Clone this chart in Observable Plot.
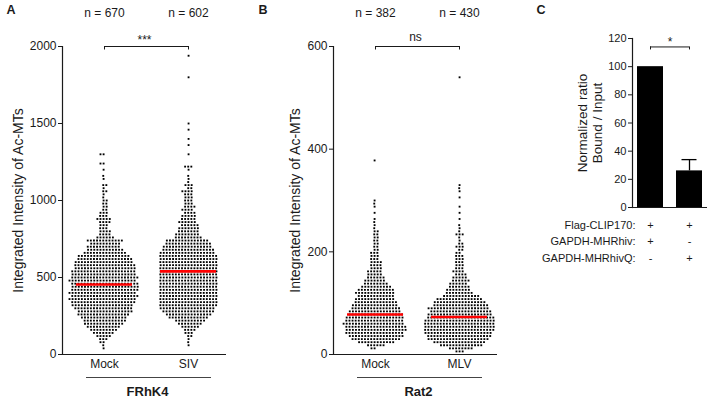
<!DOCTYPE html>
<html><head><meta charset="utf-8">
<script src="https://cdn.jsdelivr.net/npm/d3@7"></script>
<script src="https://cdn.jsdelivr.net/npm/@observablehq/plot@0.6"></script>
<style>
body{margin:0;background:#fff;}
#wrap{position:relative;width:709px;height:400px;overflow:hidden;background:#fff;}
#wrap svg{position:absolute;top:0;}
</style></head><body><div id="wrap"></div>
<script>
// ---------- Panel A data (FRhK4) : [row value, number of dots in row] ----------
const groupsA = ["Mock", "SIV"];
const nA = [670, 602];
const meanA = [455, 540];
const mockA = [[40,1],[60,1],[80,2],[100,3],[120,5],[140,7],[160,9],[180,11],[200,13],[220,14],[240,15],[260,17],[280,18],[300,19],[320,20],[340,21],[360,22],[380,22],[400,22],[420,22],[440,22],[460,22],[480,22],[500,22],[520,21],[540,21],[560,20],[580,20],[600,19],[620,18],[640,17],[660,14],[680,12],[700,11],[720,10],[740,12],[760,6],[780,4],[800,4],[820,3],[840,3],[860,4],[880,5],[900,3],[920,3],[940,2],[960,2],[980,2],[1000,2],[1020,1],[1040,1],[1060,2],[1080,1],[1100,2],[1140,1],[1160,1],[1200,1],[1240,2],[1300,2]];
const sivA = [[60,1],[80,1],[100,1],[120,2],[140,3],[160,4],[180,6],[200,8],[220,10],[240,13],[260,15],[280,17],[300,18],[320,19],[340,19],[360,19],[380,19],[400,19],[420,19],[440,19],[460,19],[480,19],[500,19],[520,19],[540,19],[560,19],[580,19],[600,19],[620,19],[640,19],[660,18],[680,17],[700,16],[720,15],[740,14],[760,9],[780,8],[800,7],[820,7],[840,6],[860,6],[880,5],[900,5],[920,4],[940,4],[960,4],[980,3],[1000,3],[1020,3],[1040,3],[1060,4],[1080,2],[1100,3],[1120,1],[1140,1],[1160,1],[1200,1],[1220,3],[1300,1],[1360,1],[1400,1],[1460,1],[1500,1],[1800,1],[1940,1]];
const ticksA = [0, 500, 1000, 1500, 2000];

// ---------- Panel B data (Rat2) ----------
const groupsB = ["Mock", "MLV"];
const nB = [382, 430];
const meanB = [78, 73];
const mockB = [[12,2],[18,6],[24,12],[30,16],[36,18],[42,19],[48,20],[54,20],[60,20],[66,19],[72,19],[78,18],[84,17],[90,16],[96,15],[102,14],[108,13],[114,12],[120,13],[126,12],[132,10],[138,8],[144,7],[150,6],[156,5],[162,5],[168,4],[174,4],[180,4],[186,3],[192,3],[198,3],[204,2],[210,2],[216,2],[222,2],[228,2],[234,2],[240,2],[246,1],[252,1],[258,1],[264,1],[276,1],[288,1],[294,1],[300,1],[378,1]];
const mlvB = [[6,3],[12,8],[18,14],[24,17],[30,20],[36,21],[42,22],[48,23],[54,23],[60,23],[66,23],[72,22],[78,21],[84,20],[90,20],[96,18],[102,17],[108,15],[114,12],[120,9],[126,8],[132,7],[138,6],[144,6],[150,5],[156,4],[162,4],[168,3],[174,3],[180,3],[186,3],[192,3],[198,2],[204,2],[210,3],[216,2],[222,1],[228,1],[234,3],[240,1],[246,1],[252,1],[264,1],[276,1],[288,1],[306,1],[318,1],[324,1],[330,1],[540,1]];
const ticksB = [0, 200, 400, 600];

// ---------- Panel C data ----------
const barsC = ["lane1", "lane2"];
const valuesC = [100, 26];
const errC = [0, 8];
const ticksC = [0, 20, 40, 60, 80, 100, 120];
const condLabels = ["Flag-CLIP170:", "GAPDH-MHRhiv:", "GAPDH-MHRhivQ:"];
const condSigns = [["+", "+"], ["+", "-"], ["-", "+"]];

const FONT = "'Liberation Sans', Arial, Helvetica, sans-serif";
const AX = "#1a1a1a";

function swarmPanel({left, groups, rows, means, ns, yDomain, yTicks, sig, sigDy, cell, letter, letterDx, ylabelDx}) {
  const W = 240, H = 400, mL = 62, mR = 14, mT = 46, mB = 46;
  const pad = 0.465, align = 0.52;
  const xs = d3.scalePoint().domain(groups).range([mL, W - mR]).padding(pad).align(align);
  const mid = (mL + W - mR) / 2;
  const pts = rows.map((r, i) => r.flatMap(([v, c]) => d3.range(c).map(() => ({g: groups[i], v}))));
  const meanData = groups.map((g, i) => ({g, m: means[i]}));
  const nData = groups.map((g, i) => ({g, n: "n = " + ns[i]}));
  const tick = (yDomain[1] - yDomain[0]) * 3.5 / (H - mT - mB);
  const svg = Plot.plot({
    width: W, height: H, marginLeft: mL, marginRight: mR, marginTop: mT, marginBottom: mB,
    style: {fontFamily: FONT, fontSize: "12px", color: AX, background: "transparent", overflow: "visible"},
    x: {type: "point", domain: groups, padding: pad, align},
    y: {domain: yDomain},
    marks: [
      Plot.axisY({ticks: yTicks, tickSize: 4, tickPadding: 2, label: null, fontSize: 12, tickFormat: d => String(d)}),
      Plot.axisX({tickSize: 0, tickPadding: 5, label: null, fontSize: 12}),
      Plot.frame({anchor: "left", stroke: AX, strokeWidth: 1.2}),
      Plot.ruleY([yDomain[0]], {stroke: AX, strokeWidth: 1.2}),
      ...groups.map((g, i) => Plot.dot(pts[i], Plot.dodgeX("middle", {y: "v", r: 1.05, padding: 0.55, symbol: "square", fill: "#000", stroke: null, dx: xs(g) - mid}))),
      Plot.ruleY(meanData, {x1: "g", x2: "g", y: "m", stroke: "#ff0000", strokeWidth: 2.6, insetLeft: -28, insetRight: -28}),
      Plot.text(nData, {x: "g", text: "n", frameAnchor: "top", lineAnchor: "middle", dy: -33, fontSize: 12, fill: AX}),
      Plot.ruleY([yDomain[1]], {x1: () => groups[0], x2: () => groups[1], stroke: AX}),
      Plot.ruleX(groups, {x: d => d, y1: yDomain[1], y2: yDomain[1] - tick, stroke: AX}),
      Plot.text([sig], {frameAnchor: "top", lineAnchor: "middle", dy: sigDy, fontSize: 12, fill: AX}),
      Plot.ruleY([yDomain[0]], {x1: () => groups[0], x2: () => groups[1], dy: 23, insetLeft: -18, insetRight: -23, stroke: "#444"}),
      Plot.text([cell], {frameAnchor: "bottom", lineAnchor: "middle", dy: 37, dx: 3, fontWeight: "bold", fontSize: 13, fill: AX}),
      Plot.text([letter], {frameAnchor: "top-left", textAnchor: "start", lineAnchor: "middle", dx: letterDx, dy: -37, fontWeight: "bold", fontSize: 12.5, fill: AX}),
      Plot.text(["Integrated Intensity of Ac-MTs"], {frameAnchor: "left", textAnchor: "middle", lineAnchor: "middle", rotate: -90, dx: ylabelDx, fontSize: 14, fill: AX})
    ]
  });
  svg.style.left = left + "px";
  return svg;
}

function barPanel() {
  const W = 179, H = 400, mL = 102, mR = 2, mT = 38, mB = 193;
  const bars = barsC.map((k, i) => ({k, v: valuesC[i], e: errC[i]}));
  const errs = bars.filter(d => d.e > 0);
  const signs = condSigns.flatMap((row, r) => row.map((s, i) => ({k: barsC[i], s, r})));
  const top = 114;
  const tick = 120 * 3 / (H - mT - mB);
  const svg = Plot.plot({
    width: W, height: H, marginLeft: mL, marginRight: mR, marginTop: mT, marginBottom: mB,
    style: {fontFamily: FONT, fontSize: "11px", color: AX, background: "transparent", overflow: "visible"},
    x: {type: "band", domain: barsC, paddingInner: 0.333, paddingOuter: 0.128},
    y: {domain: [0, 120]},
    marks: [
      Plot.axisY({ticks: ticksC, tickSize: 4, tickPadding: 2, label: null, fontSize: 11}),
      Plot.axisX({ticks: [], tickSize: 0, label: null}),
      Plot.barY(bars, {x: "k", y: "v", fill: "#000"}),
      Plot.ruleX(errs, {x: "k", y1: "v", y2: d => d.v + d.e, stroke: "#000", strokeWidth: 1.3}),
      Plot.tickY(errs, {x: "k", y: d => d.v + d.e, stroke: "#000", strokeWidth: 1.3, insetLeft: 5.5, insetRight: 5.5}),
      Plot.frame({anchor: "left", stroke: AX, strokeWidth: 1.2}),
      Plot.ruleY([0], {stroke: AX, strokeWidth: 1.2}),
      Plot.ruleY([top], {x1: () => barsC[0], x2: () => barsC[1], insetLeft: 13, insetRight: 13, stroke: AX}),
      Plot.ruleX(barsC, {x: d => d, y1: top, y2: top - tick, stroke: AX}),
      Plot.text(["*"], {x: () => barsC[0], y: top, dx: 19.5, dy: -5, lineAnchor: "middle", fontSize: 12, fill: AX}),
      Plot.text(["Normalized ratio\nBound / Input"], {frameAnchor: "left", textAnchor: "middle", lineAnchor: "middle", rotate: -90, dx: -42.5, fontSize: 13.5, lineHeight: 1.1, fill: AX}),
      ...condLabels.map((t, r) => Plot.text([t], {frameAnchor: "bottom-left", textAnchor: "end", lineAnchor: "middle", dx: 3, dy: 18 + 16.3 * r, fontSize: 11, fill: AX})),
      ...condSigns.map((row, r) => Plot.text(signs.filter(d => d.r === r), {x: "k", text: "s", frameAnchor: "bottom", lineAnchor: "middle", dy: 18 + 16.3 * r, fontSize: 11, fill: AX})),
      Plot.text(["C"], {frameAnchor: "top-left", textAnchor: "start", lineAnchor: "middle", dx: -96, dy: -29, fontWeight: "bold", fontSize: 12.5, fill: AX})
    ]
  });
  svg.style.left = "530px";
  return svg;
}

const wrap = document.getElementById("wrap");
wrap.appendChild(swarmPanel({left: 0, groups: groupsA, rows: [mockA, sivA], means: meanA, ns: nA, yDomain: [0, 2000], yTicks: ticksA, sig: "***", sigDy: -6, cell: "FRhK4", letter: "A", letterDx: -56, ylabelDx: -44}));
wrap.appendChild(swarmPanel({left: 271, groups: groupsB, rows: [mockB, mlvB], means: meanB, ns: nB, yDomain: [0, 600], yTicks: ticksB, sig: "ns", sigDy: -9, cell: "Rat2", letter: "B", letterDx: -75, ylabelDx: -38}));
wrap.appendChild(barPanel());
</script></body></html>
